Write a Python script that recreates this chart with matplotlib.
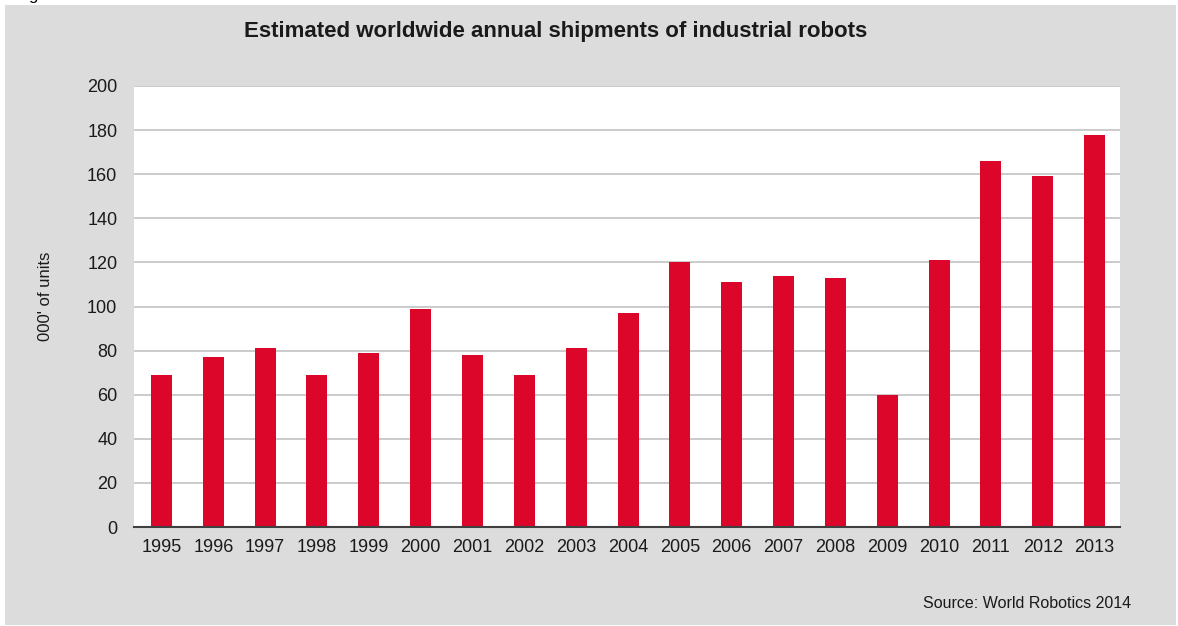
import numpy as np
import matplotlib.pyplot as plt
from matplotlib.patches import Rectangle

# shipments in thousands of units
years = ['1995', '1996', '1997', '1998', '1999', '2000', '2001', '2002', '2003', '2004',
         '2005', '2006', '2007', '2008', '2009', '2010', '2011', '2012', '2013']
shipments = [69, 77, 81, 69, 79, 99, 78, 69, 81, 97,
             120, 111, 114, 113, 60, 121, 166, 159, 178]
y_ticks = [0, 20, 40, 60, 80, 100, 120, 140, 160, 180, 200]

plt.rcParams['font.family'] = ['Liberation Sans', 'DejaVu Sans']

W, H = 1178, 626
fig = plt.figure(figsize=(W/100, H/100), dpi=100, facecolor='white')

# grey panel behind the chart
panel = Rectangle((5/W, 1 - 625/H), (1176 - 5)/W, (625 - 5)/H, transform=fig.transFigure,
                  facecolor='#dcdcdc', edgecolor='none', zorder=-1)
fig.patches.append(panel)
fig.text(33/W, 1.0, 'g', ha='center', va='baseline', fontsize=12, color='black', zorder=-2)

ax = fig.add_axes([134/W, 1 - 527/H, (1120 - 134)/W, (527 - 86)/H])
ax.set_facecolor('white')

x = np.arange(len(years))
ax.bar(x, shipments, width=0.405, color='#dc062b', zorder=3)

ax.set_xlim(-0.53, len(years) - 0.51)
ax.set_ylim(0, 200)
ax.set_yticks(y_ticks)
ax.set_xticks(x)
ax.set_xticklabels(years)
ax.yaxis.grid(True, color='#c2c2c2', linewidth=1.2, zorder=0)
ax.set_axisbelow(True)

for s in ['top', 'left', 'right']:
    ax.spines[s].set_visible(False)
ax.spines['bottom'].set_color('#404040')
ax.spines['bottom'].set_linewidth(1.5)
ax.spines['bottom'].set_zorder(4)

ax.tick_params(axis='y', length=0, pad=12, labelsize=13, labelcolor='#1a1a1a')
ax.tick_params(axis='x', length=0, pad=9, labelsize=13, labelcolor='#1a1a1a')

ax.set_ylabel("000' of units", fontsize=12, color='#1a1a1a')
ax.yaxis.set_label_coords(53/W, 1 - 296/H, transform=fig.transFigure)

fig.text(556/W, 1 - 32/H, 'Estimated worldwide annual shipments of industrial robots',
         ha='center', va='center', fontsize=16, fontweight='bold', color='#1a1a1a')
fig.text(1131/W, 1 - 604/H, 'Source: World Robotics 2014',
         ha='right', va='center', fontsize=11.5, color='#1a1a1a')

fig.savefig('out.png', dpi=100, facecolor=fig.get_facecolor())
